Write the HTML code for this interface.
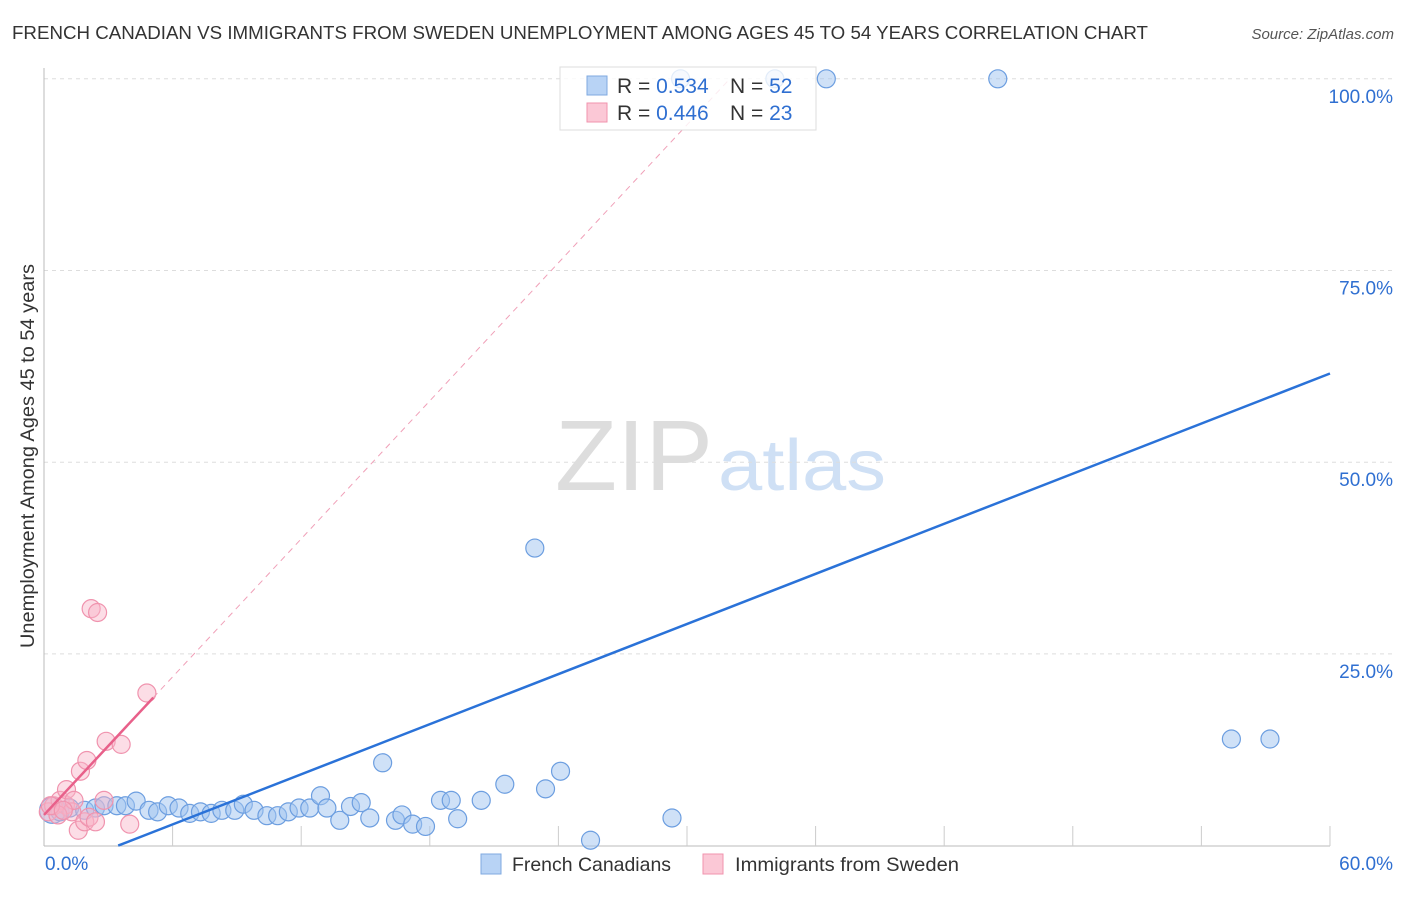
<!DOCTYPE html>
<html><head><meta charset="utf-8">
<style>
body{margin:0;background:#fff;font-family:"Liberation Sans",sans-serif;}
svg text{font-family:"Liberation Sans",sans-serif;}
</style></head>
<body>
<svg id="chart" width="1406" height="892" xmlns="http://www.w3.org/2000/svg">
<text x="12" y="39" font-size="18.5" fill="#333" textLength="1136" lengthAdjust="spacingAndGlyphs">FRENCH CANADIAN VS IMMIGRANTS FROM SWEDEN UNEMPLOYMENT AMONG AGES 45 TO 54 YEARS CORRELATION CHART</text>
<text x="1394" y="39" font-size="15" fill="#555" text-anchor="end" font-style="italic">Source: ZipAtlas.com</text>
<text transform="translate(34,456) rotate(-90)" font-size="19" fill="#333" text-anchor="middle" textLength="384" lengthAdjust="spacingAndGlyphs">Unemployment Among Ages 45 to 54 years</text>
<g>
<text x="634" y="490" font-size="100" fill="#ddd" text-anchor="middle" font-family="Liberation Serif" textLength="158" lengthAdjust="spacingAndGlyphs">ZIP</text>
<text x="802" y="490" font-size="72" fill="#cfe0f5" text-anchor="middle" textLength="168" lengthAdjust="spacingAndGlyphs">atlas</text>
</g>
<g id="grid"></g>
<g id="marks"></g>
<g id="lines"></g>
<g>
<rect x="560" y="67" width="256" height="63" fill="#fff" fill-opacity="0.8" stroke="#ddd"/>
<rect x="587" y="76" width="20" height="19" fill="#b8d3f5" stroke="#7fa9e0"/>
<rect x="587" y="103" width="20" height="19" fill="#fbc8d6" stroke="#f093ae"/>
<text x="617" y="93" font-size="21" fill="#333">R = <tspan fill="#2f6fd1">0.534</tspan></text>
<text x="730" y="93" font-size="21" fill="#333">N = <tspan fill="#2f6fd1">52</tspan></text>
<text x="617" y="120" font-size="21" fill="#333">R = <tspan fill="#2f6fd1">0.446</tspan></text>
<text x="730" y="120" font-size="21" fill="#333">N = <tspan fill="#2f6fd1">23</tspan></text>
</g>
<g>
<rect x="481" y="854" width="20" height="20" fill="#b8d3f5" stroke="#7fa9e0"/>
<text x="512" y="871" font-size="19.5" fill="#333" textLength="159" lengthAdjust="spacingAndGlyphs">French Canadians</text>
<rect x="703" y="854" width="20" height="20" fill="#fbc8d6" stroke="#f093ae"/>
<text x="735" y="871" font-size="19.5" fill="#333" textLength="224" lengthAdjust="spacingAndGlyphs">Immigrants from Sweden</text>
</g>
</svg>
<script>
const xTickLabels=["0.0%","60.0%"];
const yTicks=[25,50,75,100];
const blueX=[0.4,0.75,1.2,1.9,2.4,2.8,3.4,3.8,4.3,4.9,5.3,5.8,6.3,6.8,7.3,7.8,8.3,8.9,9.3,9.8,10.4,10.9,11.4,11.9,12.4,12.9,13.2,13.8,14.3,14.8,15.2,15.8,16.4,16.7,17.2,17.8,18.5,19.0,19.3,20.4,21.5,23.4,24.1,22.9,25.5,29.3,55.4,57.2,36.5,44.5,29.7,34.1];
const blueY=[4.6,4.4,4.9,4.6,4.9,5.2,5.2,5.2,5.8,4.6,4.4,5.2,4.9,4.2,4.4,4.2,4.6,4.6,5.4,4.6,3.9,3.9,4.4,4.9,4.9,6.5,4.9,3.3,5.1,5.6,3.6,10.8,3.3,4.0,2.8,2.5,5.9,5.9,3.5,5.9,8.0,7.4,9.7,38.8,0.7,3.6,13.9,13.9,100,100,100,100];
const pinkX=[0.2,0.45,0.75,1.0,1.3,1.6,1.9,2.1,2.4,2.8,1.05,1.4,1.7,2.0,2.2,2.5,2.9,3.6,4.0,4.8,0.65,0.3,0.9];
const pinkY=[4.4,5.2,5.9,5.3,4.4,2.0,3.1,3.7,3.1,5.9,7.3,5.9,9.7,11.1,30.9,30.4,13.6,13.2,2.8,19.9,4.0,5.2,4.6];
const blueLine=[1.089,-3.77];
const pinkLine=[3.0,4.0];
const ns="http://www.w3.org/2000/svg";
const X=v=>44+v*21.433, Y=v=>845.6-v*7.668;
function mk(tag,attrs,parent){const e=document.createElementNS(ns,tag);for(const k in attrs)e.setAttribute(k,attrs[k]);document.getElementById(parent).appendChild(e);return e;}
yTicks.forEach(t=>{
 const g=mk('line',{x1:44,x2:1393,y1:Y(t),y2:Y(t),stroke:'#ddd','stroke-dasharray':'4,4'},'grid');
 
 
 const l=mk('text',{x:1393,y:Y(t)+24,'font-size':19,fill:'#2f6fd1','text-anchor':'end'},'grid');
 l.textContent=t.toFixed(1)+'%';
 
 
});
const ya=mk('line',{x1:44,x2:44,y1:68,y2:846,stroke:'#bbb'},'grid');


const xa=mk('line',{x1:44,x2:1330,y1:846,y2:846,stroke:'#bbb'},'grid');


for(let k=1;k<=10;k++){
 const t=mk('line',{x1:X(6*k),x2:X(6*k),y1:826,y2:846,stroke:'#ccc'},'grid');
 
 
}
[[0,'start',45],[60,'end',1393]].forEach((d,i)=>{
 const l=mk('text',{x:d[2],y:870,'font-size':19,fill:'#2f6fd1','text-anchor':d[1]},'grid');
 l.textContent=xTickLabels[i];
 
 
});
blueX.forEach((x,i)=>{
 const c=mk('circle',{cx:X(x),cy:Y(blueY[i]),r:i==0?13:9,fill:'rgba(160,196,240,0.5)',stroke:'#6c9ee0','stroke-width':1.2},'marks');
 
 
});
pinkX.forEach((x,i)=>{
 const c=mk('circle',{cx:X(x),cy:Y(pinkY[i]),r:9,fill:'rgba(248,180,200,0.45)',stroke:'#f093ae','stroke-width':1.2},'marks');
 
 
});
const bx0=-blueLine[1]/blueLine[0];
const bl=mk('line',{x1:X(bx0),y1:Y(0),x2:X(60),y2:Y(blueLine[0]*60+blueLine[1]),stroke:'#2a72d8','stroke-width':2.5},'lines');


const px1=(100-pinkLine[1])/pinkLine[0];
const pd=mk('line',{x1:X(5.1),y1:Y(pinkLine[0]*5.1+pinkLine[1]),x2:X(px1),y2:Y(100),stroke:'#f0a0b8','stroke-width':1,'stroke-dasharray':'6,5'},'lines');


const ps=mk('line',{x1:X(0),y1:Y(pinkLine[1]),x2:X(5.1),y2:Y(pinkLine[0]*5.1+pinkLine[1]),stroke:'#e8608a','stroke-width':2.5},'lines');


</script>
</body></html>
